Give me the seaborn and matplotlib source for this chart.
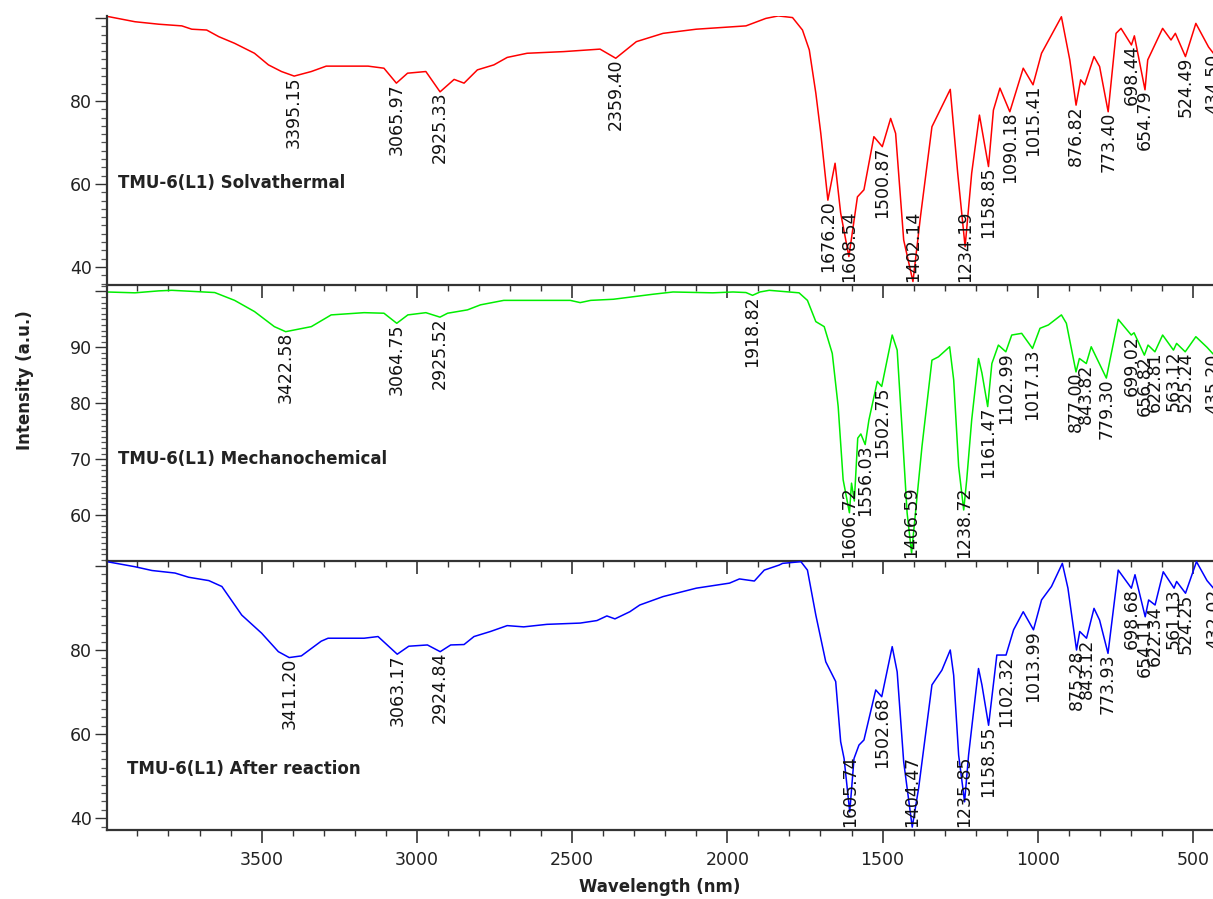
import numpy as np
import pandas as pd
import matplotlib
matplotlib.use("Agg")
import matplotlib.pyplot as plt
import seaborn as sns
from matplotlib.ticker import MultipleLocator, FixedLocator

# ---------------- data ----------------
# TMU-6(L1) Solvathermal (red)
wn_solv = [3998, 3908, 3831, 3757, 3725, 3677, 3638, 3587, 3523, 3478, 3436, 3395.15, 3340, 3292,
           3157, 3106, 3065.97, 3030, 2971, 2925.33, 2880, 2848, 2805, 2752, 2709, 2645, 2527, 2410,
           2359.40, 2293, 2207, 2100, 1940, 1876, 1836, 1790, 1758, 1736, 1715, 1699, 1676.20, 1653,
           1635, 1608.54, 1581, 1560, 1528, 1500.87, 1474, 1458, 1432, 1402.14, 1378, 1341, 1320,
           1282, 1258, 1234.19, 1213, 1188, 1158.85, 1143, 1122, 1090.18, 1047, 1015.41, 988, 924,
           897, 876.82, 862, 849, 819, 801, 773.40, 748, 732, 698.44, 689, 654.79, 646, 598, 571,
           557, 524.49, 491, 450, 434.50, 420]
it_solv = [100.4, 99.1, 98.5, 98.1, 97.3, 97.1, 95.5, 93.9, 91.5, 88.7, 87.1, 86.0, 87.1, 88.4,
           88.4, 87.9, 84.3, 86.7, 87.1, 82.2, 85.2, 84.3, 87.5, 88.7, 90.5, 91.5, 91.9, 92.5,
           90.3, 94.3, 96.3, 97.3, 98.1, 99.9, 100.5, 100.1, 97.1, 92.3, 81.9, 72.2, 56.1, 65.0,
           53.0, 42.5, 56.9, 58.6, 71.4, 69.0, 75.8, 72.2, 46.5, 36.5, 52.1, 73.8, 77.0,
           82.8, 62.6, 44.9, 62.6, 76.6, 64.2, 77.8, 83.1, 77.4, 87.9, 83.9, 91.5, 100.3,
           89.9, 79.0, 85.1, 83.9, 90.7, 88.3, 77.4, 96.3, 97.5, 93.5, 95.7, 82.7, 89.9, 97.5, 94.7,
           96.3, 90.7, 98.7, 93.0, 91.5, 93.5]
peaks_solv = [3395.15, 3065.97, 2925.33, 2359.40, 1676.20, 1608.54, 1500.87, 1402.14, 1234.19,
              1158.85, 1090.18, 1015.41, 876.82, 773.40, 698.44, 654.79, 524.49, 434.50]

# TMU-6(L1) Mechanochemical (green)
wn_mech = [3998, 3908, 3831, 3789, 3651, 3587, 3523, 3459, 3422.58, 3340, 3276, 3170, 3106, 3064.75,
           3029, 2971, 2925.52, 2901, 2837, 2795, 2720, 2506, 2474, 2440, 2367, 2239, 2175, 2047,
           1982, 1940, 1918.82, 1895, 1865, 1769, 1742, 1715, 1688, 1662, 1643, 1627, 1606.72, 1600,
           1591, 1580, 1570, 1556.03, 1544, 1517, 1502.75, 1469, 1453, 1437, 1421, 1406.59, 1394,
           1373, 1341, 1320, 1284, 1271, 1255, 1238.72, 1229, 1213, 1191, 1180, 1161.47, 1148, 1127,
           1102.99, 1084, 1052, 1017.13, 993, 966, 924, 908, 877.00, 866, 843.82, 828, 779.30, 741,
           699.02, 690, 656.82, 645, 622.81, 598, 563.12, 553, 525.24, 491, 455, 435.20, 420]
it_mech = [99.9, 99.75, 100.1, 100.2, 99.8, 98.4, 96.4, 93.7, 92.8, 93.7, 95.8, 96.2, 96.1, 94.3,
           95.8, 96.2, 95.4, 96.1, 96.7, 97.6, 98.4, 98.4, 98.0, 98.4, 98.6, 99.5, 99.9, 99.75,
           99.9, 99.8, 99.3, 99.9, 100.2, 99.75, 98.4, 94.6, 93.7, 88.9, 79.4, 66.3, 60.4, 65.7,
           62.5, 73.75, 74.5, 72.6, 77.0, 83.9, 83.0, 92.2, 89.5, 75.2, 60.4, 53.2, 60.4,
           72.3, 87.7, 88.3, 90.1, 84.2, 68.7, 60.9, 66.3, 77.0, 88.0, 85.4, 79.4, 87.1, 90.4,
           89.2, 92.2, 92.5, 89.8, 93.4, 94.0, 95.8, 94.3, 85.6, 88.0, 87.1, 90.1, 84.5, 95.0,
           92.2, 92.6, 88.6, 90.4, 89.2, 92.2, 89.5, 90.7, 89.2, 91.9, 90.0, 88.8, 90.5]
peaks_mech = [3422.58, 3064.75, 2925.52, 1918.82, 1606.72, 1556.03, 1502.75, 1406.59, 1238.72,
              1161.47, 1102.99, 1017.13, 877.00, 843.82, 779.30, 699.02, 656.82, 622.81, 563.12,
              525.24, 435.20]

# TMU-6(L1) After reaction (blue)
wn_after = [3998, 3908, 3853, 3779, 3735, 3670, 3628, 3564, 3500, 3446, 3411.20, 3372, 3308, 3286,
            3170, 3125, 3063.17, 3026, 2966, 2924.84, 2891, 2848, 2816, 2763, 2709, 2656, 2581, 2474,
            2420, 2388, 2362, 2314, 2282, 2207, 2100, 1993, 1961, 1913, 1881, 1833, 1822, 1763, 1742,
            1715, 1683, 1651, 1635, 1624, 1605.74, 1592, 1576, 1560, 1522, 1502.68, 1469, 1453, 1432,
            1404.47, 1384, 1341, 1309, 1282, 1271, 1255, 1235.85, 1223, 1191, 1180, 1158.55, 1132,
            1102.32, 1078, 1047, 1013.99, 988, 956, 921, 903, 875.28, 865, 843.12, 819, 801, 773.93,
            741, 698.68, 687, 654.11, 643, 622.34, 596, 561.13, 553, 524.25, 489, 455, 432.02, 420]
it_after = [101.0, 99.8, 98.9, 98.3, 97.3, 96.5, 95.1, 88.3, 84.0, 79.6, 78.2, 78.6, 82.1, 82.8,
            82.8, 83.2, 79.0, 80.9, 81.2, 79.6, 81.2, 81.3, 83.2, 84.4, 85.8, 85.5, 86.1, 86.4,
            87.0, 88.1, 87.4, 89.1, 90.7, 92.7, 94.7, 95.9, 96.9, 96.4, 99.0, 100.2, 100.6, 101.0, 99.0,
            88.3, 77.2, 72.5, 58.2, 54.2, 41.5, 54.2, 57.4, 58.6, 70.5, 68.9, 80.8, 74.8, 53.4,
            37.9, 47.1, 71.7, 75.2, 80.0, 74.0, 55.0, 43.9, 55.0, 75.6, 71.7, 62.1, 78.8,
            78.8, 84.8, 89.1, 84.8, 91.9, 95.1, 100.6, 94.7, 80.0, 84.4, 82.8, 89.9, 87.1, 79.2,
            99.0, 94.7, 97.9, 87.9, 91.9, 90.7, 98.6, 94.7, 96.3, 93.5, 101.0, 96.5, 94.5, 96.0]
peaks_after = [3411.20, 3063.17, 2924.84, 1605.74, 1502.68, 1404.47, 1235.85, 1158.55, 1102.32,
               1013.99, 875.28, 843.12, 773.93, 698.68, 654.11, 622.34, 561.13, 524.25, 432.02]

sample_names = ["TMU-6(L1) Solvathermal", "TMU-6(L1) Mechanochemical", "TMU-6(L1) After reaction"]
line_colors = ["#ff0000", "#00ee00", "#0000ff"]
x_ticks = [3500, 3000, 2500, 2000, 1500, 1000, 500]
y_major = [[40, 60, 80, 100], [60, 70, 80, 90, 100], [40, 60, 80, 100]]
y_minor_step = [2, 1, 2]
y_limits = [(35.66, 100.48), (51.77, 101.15), (37.2, 101.4)]
label_yvals = [60.3, 70.1, 51.7]
label_xfrac = [0.010, 0.010, 0.018]

spectra = [(wn_solv, it_solv, peaks_solv), (wn_mech, it_mech, peaks_mech),
           (wn_after, it_after, peaks_after)]

# ---------------- figure ----------------
sns.set_theme(style="ticks")
plt.rcParams["font.family"] = ["DejaVu Sans"]

W, H = 1213, 899
fig = plt.figure(figsize=(W / 100, H / 100), dpi=100)
fig.patch.set_facecolor("white")

left_px, right_px = 107, 1230
panel_px = [(16, 285), (285, 561), (560, 830)]
xlim = (3998, 381)

axes = []
for i, (top, bot) in enumerate(panel_px):
    ax = fig.add_axes([left_px / W, 1 - bot / H, (right_px - left_px) / W, (bot - top) / H])
    ax.set_facecolor("none")
    axes.append(ax)

all_texts = []
for i, ax in enumerate(axes):
    wn, it, peaks = spectra[i]
    df = pd.DataFrame({"wn": wn, "it": it})
    sns.lineplot(data=df, x="wn", y="it", sort=False, estimator=None, color=line_colors[i],
                 lw=1.1, ax=ax)
    ax.set_xlim(*xlim)
    ax.set_ylim(*y_limits[i])
    ax.set_xlabel("")
    ax.set_ylabel("")
    for s in ["top", "right"]:
        ax.spines[s].set_visible(False)
    for s in ["left", "bottom"]:
        ax.spines[s].set_color("#333333")
        ax.spines[s].set_linewidth(1.6)
    ax.xaxis.set_major_locator(FixedLocator(x_ticks))
    ax.xaxis.set_minor_locator(MultipleLocator(100))
    ax.yaxis.set_major_locator(FixedLocator(y_major[i]))
    ax.yaxis.set_minor_locator(MultipleLocator(y_minor_step[i]))
    ax.set_yticklabels([str(v) if v != 100 else "" for v in y_major[i]])
    ax.tick_params(axis="y", which="major", direction="out", length=9, width=1.0,
                   color="#333333", labelsize=12.5, labelcolor="#222222", pad=2)
    ax.tick_params(axis="y", which="minor", direction="out", length=4.5, width=0.9, color="#555555")
    ax.tick_params(axis="x", which="major", direction="out", length=9, width=1.2,
                   color="#333333", labelsize=12.5, labelcolor="#222222", pad=6, top=False)
    ax.tick_params(axis="x", which="minor", direction="out", length=4.5, width=1.0,
                   color="#333333", top=False)
    if i < 2:
        ax.tick_params(axis="x", labelbottom=False)
    ax.text(label_xfrac[i], label_yvals[i], sample_names[i], transform=ax.get_yaxis_transform(),
            fontsize=12, fontweight="bold", color="#222222", va="center", ha="left")

    xs = np.array(wn)[::-1]
    ys = np.array(it)[::-1]
    for p in peaks:
        yv = float(np.interp(p, xs, ys))
        t = ax.text(p, yv, f"{p:.2f}", rotation=90, ha="center", va="top", fontsize=12.5,
                    color="#111111")
        all_texts.append((ax, t, p))

# keep peak labels inside their panel (anchor at panel bottom when too long)
fig.canvas.draw()
renderer = fig.canvas.get_renderer()
for ax, t, p in all_texts:
    bb = t.get_window_extent(renderer)
    abb = ax.get_window_extent(renderer)
    if bb.y0 < abb.y0 + 2:
        y0, y1 = ax.get_ylim()
        pad = 3 * (y1 - y0) / abb.height
        t.set_position((p, y0 + pad))
        t.set_va("bottom")

fig.text(660 / W, 1 - 887 / H, "Wavelength (nm)", ha="center", va="center", fontsize=12,
         fontweight="bold", color="#222222")
fig.text(25 / W, 1 - 380 / H, "Intensity (a.u.)", ha="center", va="center", rotation=90,
         fontsize=12, fontweight="bold", color="#222222")

fig.savefig("out.png", dpi=100, facecolor="white")
